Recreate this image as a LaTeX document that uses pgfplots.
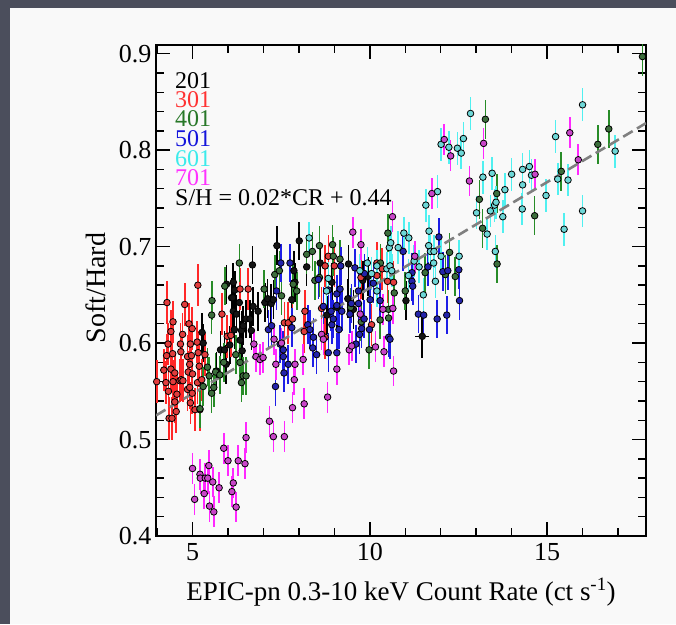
\documentclass[border=0pt]{standalone}
\usepackage{fontspec}
\setmainfont{Liberation Serif}
\usepackage{pgfplots}
\pgfplotsset{compat=1.18}

\definecolor{bgdark}{RGB}{75,78,92}
\definecolor{panel}{RGB}{249,249,249}
% error bar colours
\definecolor{barA}{RGB}{0,0,0}
\definecolor{barB}{RGB}{255,40,40}
\definecolor{barC}{RGB}{40,140,40}
\definecolor{barD}{RGB}{30,30,230}
\definecolor{barE}{RGB}{80,240,240}
\definecolor{barF}{RGB}{255,40,255}
% marker fills
\definecolor{fillA}{RGB}{20,20,20}
\definecolor{fillB}{RGB}{225,60,60}
\definecolor{fillC}{RGB}{60,110,60}
\definecolor{fillD}{RGB}{35,35,170}
\definecolor{fillE}{RGB}{110,215,215}
\definecolor{fillF}{RGB}{200,70,200}
% label colours
\definecolor{labB}{RGB}{255,50,50}
\definecolor{labC}{RGB}{40,120,40}
\definecolor{labD}{RGB}{20,20,220}
\definecolor{labE}{RGB}{60,235,235}
\definecolor{labF}{RGB}{255,50,255}

\pgfplotsset{
  obs/.style n args={3}{
    only marks, mark=*, mark size=3.3pt,
    mark options={fill=#2, draw=black, line width=0.8pt},
    error bars/.cd, y dir=both, y fixed=#3,
    error bar style={color=#1, line width=1.6pt}, error mark=none,
    /pgfplots/.cd
  }
}

\begin{document}
\begin{tikzpicture}[x=1pt,y=1pt]
\fill[bgdark] (0,0) rectangle (676,624);
\fill[panel] (10,0) rectangle (676,616);

\begin{axis}[
  at={(156pt,88pt)}, anchor=south west,
  scale only axis, width=490pt, height=491pt,
  xmin=3.97, xmax=17.79, ymin=0.4, ymax=0.909,
  axis line style={line width=1.6pt},
  xtick={5,10,15},
  minor xtick={4,6,7,8,9,11,12,13,14,16,17},
  ytick={0.4,0.5,0.6,0.7,0.8,0.9},
  minor ytick={0.42,0.44,0.46,0.48,0.52,0.54,0.56,0.58,0.62,0.64,0.66,0.68,0.72,0.74,0.76,0.78,0.82,0.84,0.86,0.88},
  tick align=inside, xtick pos=both, ytick pos=both,
  major tick length=14pt, minor tick length=8pt,
  every tick/.style={black, line width=1.4pt},
  tick label style={font=\fontsize{26}{26}\selectfont},
  /pgf/number format/assume math mode=true,
  yticklabel style={/pgf/number format/fixed, /pgf/number format/fixed zerofill, /pgf/number format/precision=1, xshift=-1pt},
  xticklabel style={yshift=-4pt},
  clip=true,
]

% 201
\addplot[obs={barA}{fillA}{0.02}] table {
x y
5.27 0.611
5.30 0.600
5.68 0.571
5.79 0.593
5.90 0.593
5.95 0.578
5.96 0.661
6.05 0.598
6.10 0.647
6.13 0.647
6.15 0.663
6.15 0.633
6.18 0.614
6.19 0.655
6.24 0.630
6.32 0.642
6.34 0.603
6.38 0.613
6.40 0.592
6.43 0.618
6.51 0.625
6.62 0.625
6.66 0.613
6.69 0.681
6.71 0.638
6.85 0.633
7.04 0.642
7.12 0.646
7.22 0.641
7.28 0.645
7.38 0.701
7.80 0.645
7.86 0.675
7.89 0.663
8.01 0.706
8.22 0.679
8.60 0.683
8.79 0.629
8.93 0.663
9.07 0.637
9.40 0.682
9.38 0.646
9.54 0.635
9.80 0.665
9.95 0.669
11.02 0.644
};
\addplot[obs={barA}{fillA}{0.022}, error bars/x dir=both, error bars/x fixed=0.2] coordinates {(11.48,0.607)};

% 301
\addplot[obs={barB}{fillB}{0.022}] table {
x y
3.99 0.560
4.19 0.572
4.25 0.559
4.27 0.587
4.28 0.642
4.31 0.599
4.32 0.550
4.34 0.522
4.39 0.612
4.39 0.573
4.42 0.522
4.44 0.589
4.45 0.622
4.45 0.560
4.50 0.569
4.54 0.529
4.50 0.539
4.56 0.547
4.64 0.561
4.66 0.599
4.67 0.591
4.68 0.562
4.72 0.609
4.73 0.561
4.78 0.640
4.86 0.552
4.86 0.586
4.88 0.570
4.90 0.620
4.92 0.578
4.92 0.554
4.94 0.538
4.94 0.599
4.97 0.587
4.99 0.615
4.99 0.548
5.00 0.568
5.07 0.531
5.13 0.601
5.14 0.559
5.15 0.660
5.16 0.590
5.19 0.576
5.21 0.531
5.26 0.562
5.35 0.588
5.83 0.630
5.98 0.607
6.08 0.608
6.34 0.656
6.57 0.656
7.59 0.621
7.70 0.621
7.82 0.625
8.15 0.612
8.17 0.633
8.64 0.636
8.74 0.606
8.74 0.680
8.83 0.690
9.00 0.680
9.75 0.668
10.05 0.619
10.20 0.683
10.20 0.670
10.35 0.677
10.50 0.664
10.67 0.663
};

% 401
\addplot[obs={barC}{fillC}{0.02}] table {
x y
5.21 0.532
5.30 0.555
5.42 0.575
5.47 0.566
5.54 0.548
5.55 0.644
5.54 0.629
5.60 0.554
5.65 0.570
5.77 0.567
5.88 0.580
5.91 0.659
6.22 0.588
6.32 0.683
6.34 0.580
6.38 0.559
6.43 0.566
6.51 0.566
7.02 0.656
7.32 0.671
7.45 0.675
7.51 0.649
7.84 0.661
7.94 0.654
8.22 0.692
8.38 0.695
8.45 0.665
8.58 0.701
8.58 0.668
8.95 0.702
8.97 0.690
9.16 0.687
9.46 0.637
9.76 0.622
9.98 0.593
10.30 0.683
10.29 0.624
10.53 0.635
10.53 0.626
10.51 0.714
10.69 0.652
11.00 0.654
11.56 0.673
12.13 0.671
12.25 0.694
12.41 0.669
13.09 0.749
13.18 0.719
13.26 0.832
13.58 0.755
13.59 0.682
14.65 0.732
15.40 0.778
16.43 0.806
16.74 0.822
17.69 0.897
};

% 501
\addplot[obs={barD}{fillD}{0.02}] table {
x y
7.14 0.614
7.23 0.618
7.34 0.555
7.37 0.654
7.47 0.599
7.49 0.683
7.56 0.586
7.56 0.593
7.58 0.569
7.70 0.578
7.75 0.683
7.80 0.616
8.25 0.619
8.31 0.614
8.41 0.606
8.39 0.595
8.50 0.588
8.55 0.666
8.69 0.638
8.83 0.590
8.83 0.655
8.91 0.633
8.93 0.619
8.97 0.625
9.07 0.651
9.07 0.590
9.07 0.639
9.13 0.614
9.16 0.656
9.18 0.680
9.21 0.633
9.44 0.630
9.48 0.641
9.58 0.678
9.61 0.599
9.68 0.654
9.68 0.641
9.71 0.609
9.77 0.615
9.84 0.625
9.85 0.672
9.99 0.614
10.01 0.645
10.10 0.662
10.29 0.644
10.53 0.606
10.57 0.604
10.94 0.695
11.19 0.673
11.19 0.664
11.21 0.659
11.37 0.630
11.52 0.629
11.64 0.679
11.90 0.625
11.95 0.710
12.06 0.674
12.17 0.629
12.20 0.675
12.51 0.676
12.53 0.644
};

% 601
\addplot[obs={barE}{fillE}{0.017}] table {
x y
8.29 0.709
8.78 0.654
8.83 0.667
9.72 0.675
9.93 0.683
10.05 0.672
10.20 0.680
10.20 0.654
10.48 0.677
10.55 0.699
10.57 0.680
10.59 0.704
10.62 0.675
10.80 0.699
10.96 0.714
11.09 0.670
11.10 0.709
11.25 0.685
11.39 0.679
11.51 0.650
11.58 0.743
11.66 0.701
11.67 0.716
11.71 0.695
11.80 0.683
11.81 0.695
11.85 0.664
11.91 0.757
12.01 0.806
12.01 0.690
12.23 0.803
12.47 0.802
12.52 0.690
12.58 0.797
12.64 0.812
12.84 0.838
13.01 0.735
13.19 0.772
13.31 0.713
13.40 0.737
13.45 0.776
13.52 0.743
13.56 0.746
13.54 0.695
13.75 0.731
13.81 0.759
14.00 0.775
14.30 0.739
14.31 0.780
14.31 0.764
14.50 0.783
14.56 0.774
14.97 0.753
15.24 0.814
15.30 0.770
15.48 0.718
15.59 0.769
16.00 0.847
16.00 0.737
16.92 0.799
};

% 701
\addplot[obs={barF}{fillF}{0.016}] table {
x y
5.00 0.470
5.06 0.438
5.21 0.464
5.22 0.460
5.33 0.444
5.36 0.460
5.43 0.460
5.46 0.473
5.48 0.431
5.57 0.456
5.60 0.425
5.75 0.450
5.88 0.491
6.00 0.478
6.11 0.446
6.15 0.455
6.23 0.430
6.29 0.478
6.48 0.475
6.51 0.502
6.73 0.599
6.79 0.586
6.90 0.583
6.99 0.585
7.17 0.519
7.28 0.503
7.30 0.604
7.35 0.578
7.51 0.600
7.59 0.503
7.82 0.533
7.87 0.562
7.89 0.578
8.12 0.583
8.15 0.537
8.64 0.609
8.69 0.604
8.81 0.544
9.07 0.573
9.42 0.593
9.49 0.597
9.52 0.715
9.73 0.630
9.75 0.702
10.16 0.596
10.37 0.635
10.40 0.591
10.64 0.731
10.65 0.636
10.67 0.571
11.27 0.690
11.75 0.755
12.10 0.811
12.28 0.794
12.81 0.768
13.21 0.807
14.66 0.775
15.64 0.818
15.88 0.790
};

% linear fit
\addplot[gray, line width=2.6pt, dash pattern=on 11pt off 5pt] coordinates {(3.97,0.525) (17.79,0.828)};

\begin{scope}[font=\fontsize{24}{24}\selectfont,
  every node/.style={anchor=base west, inner sep=0pt, text height=16pt, text depth=2pt}]
\node[text=black] at (rel axis cs:0.0388,0.912) {201};
\node[text=labB] at (rel axis cs:0.0388,0.872) {301};
\node[text=labC] at (rel axis cs:0.0388,0.833) {401};
\node[text=labD] at (rel axis cs:0.0388,0.793) {501};
\node[text=labE] at (rel axis cs:0.0388,0.753) {601};
\node[text=labF] at (rel axis cs:0.0388,0.714) {701};
\node[text=black] at (rel axis cs:0.0388,0.674) {S/H = 0.02*CR + 0.44};
\end{scope}
\end{axis}

\node[rotate=90, anchor=base, font=\fontsize{28}{28}\selectfont] at (105.6,336) {Soft/Hard};
\node[anchor=base, font=\fontsize{27}{27}\selectfont] at (401,24) {EPIC-pn 0.3-10 keV Count Rate (ct s\textsuperscript{-1})};

\pgfresetboundingbox
\useasboundingbox (0,0) rectangle (676,624);
\end{tikzpicture}
\end{document}
